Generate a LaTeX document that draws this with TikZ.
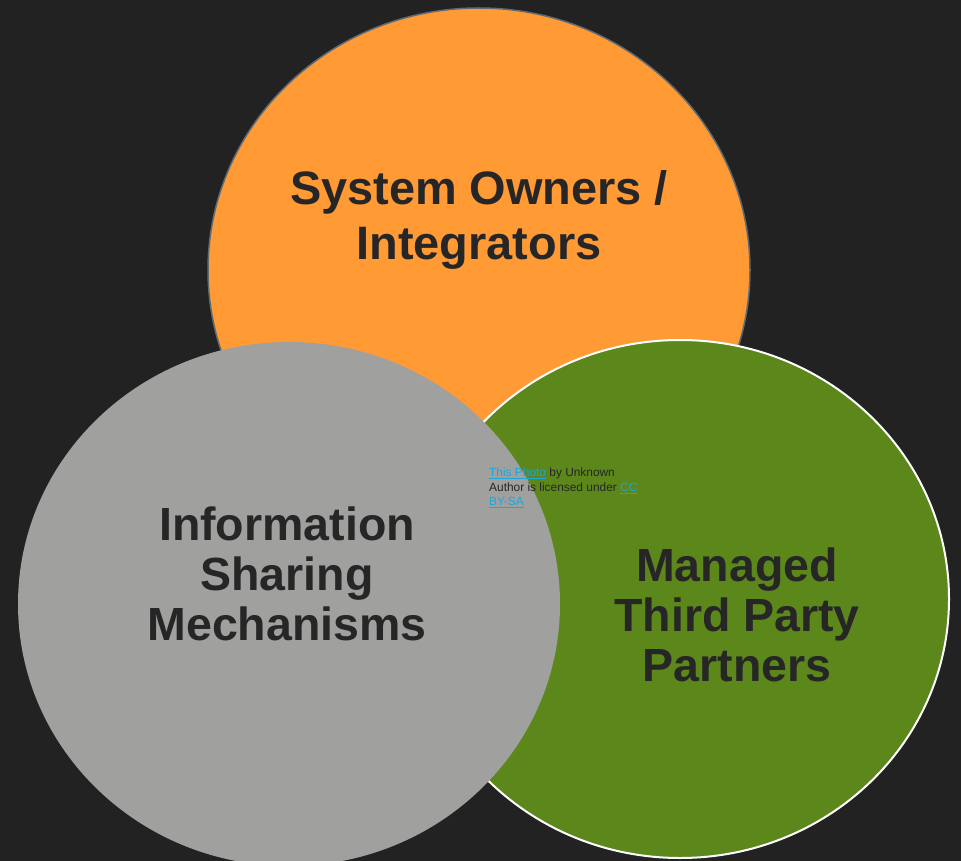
\documentclass[tikz,border=0pt]{standalone}
\usepackage{fontspec}
\setmainfont{Liberation Sans}
\definecolor{bg}{HTML}{232223}
\definecolor{orng}{HTML}{FF9A35}
\definecolor{grn}{HTML}{5C871A}
\definecolor{gry}{HTML}{A0A09F}
\definecolor{txt}{HTML}{262626}
\definecolor{lnk}{HTML}{1CA6DC}
\definecolor{obord}{HTML}{5E6A74}
\newcommand{\lnkul}[1]{\textcolor{lnk}{\underline{#1}}}
\begin{document}
\begin{tikzpicture}[x=1pt,y=-1pt,
  big/.style={font=\bfseries\fontsize{46.9}{55}\selectfont, text=txt, align=center},
  mid/.style={font=\bfseries\fontsize{46.5}{50}\selectfont, text=txt, align=center}]
\fill[bg] (0,0) rectangle (961,861);
\useasboundingbox (0,0) rectangle (961,861);
\begin{scope}
\clip (0,0) rectangle (961,861);
\filldraw[fill=orng, draw=obord, line width=1.5] (479,270) ellipse [x radius=271, y radius=262];
\filldraw[fill=grn, draw=white, line width=2] (680,599) ellipse [x radius=269, y radius=259];
\fill[gry] (289,604) ellipse [x radius=271, y radius=262];
\end{scope}
\node[big] (so) at (479,220) {System Owners /\\Integrators};
\node[mid] (is) at (287,574) {Information\\Sharing\\Mechanisms};
\node[mid] (mt) at (737,615) {Managed\\Third Party\\Partners};
\node[anchor=north west, inner sep=0, text=txt, align=left, font=\fontsize{11.9}{14.5}\selectfont] (cr) at (489,468) {\lnkul{This Photo} by Unknown\\Author is licensed under \lnkul{CC}\\\lnkul{BY-SA}};
\end{tikzpicture}
\end{document}
